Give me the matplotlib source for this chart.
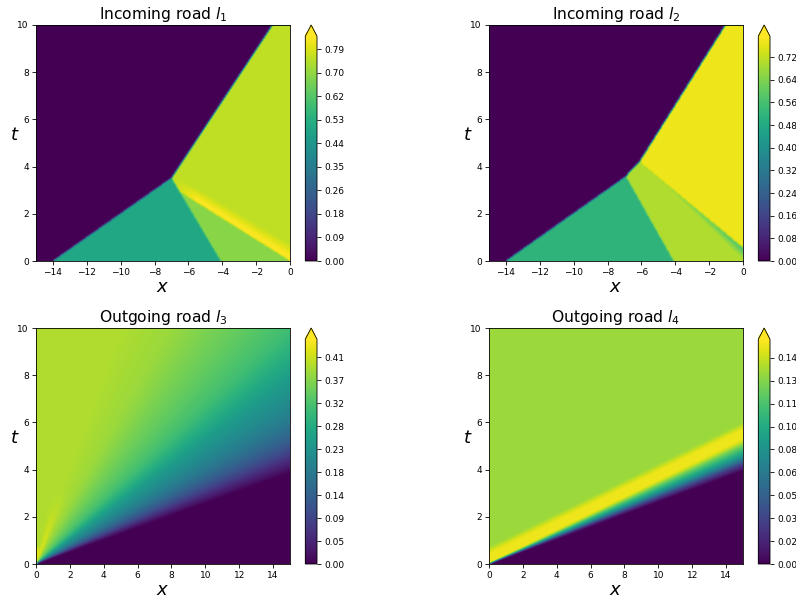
import numpy as np
import matplotlib
matplotlib.use("Agg")
import matplotlib.pyplot as plt

W, H = 796, 601
titles = [r"Incoming road $l_1$", r"Incoming road $l_2$", r"Outgoing road $l_3$", r"Outgoing road $l_4$"]
vmax_values = [0.84, 0.794, 0.45, 0.156]
cbar_ticks_1 = [0, 0.0879, 0.1758, 0.2637, 0.3516, 0.4395, 0.5274, 0.6153, 0.7032, 0.7911]
cbar_ticks_2 = [0, 0.08, 0.16, 0.24, 0.32, 0.40, 0.48, 0.56, 0.64, 0.72]
cbar_ticks_3 = [0, 0.046, 0.092, 0.138, 0.184, 0.23, 0.276, 0.322, 0.368, 0.414]
cbar_ticks_4 = [0, 0.0159, 0.0318, 0.0477, 0.0636, 0.0795, 0.0954, 0.1113, 0.1272, 0.1431]
cbar_ticks = [cbar_ticks_1, cbar_ticks_2, cbar_ticks_3, cbar_ticks_4]

# Road 1: shock fronts and constant states
r1_front_x, r1_front_t = [-14, -7, -1], [0, 3.5, 10]
r1_edge_t, r1_edge_x = [0, 3.5], [-4.1, -7]
r1_states = dict(teal=0.50, green=0.69, upper=0.76, peak=0.835)
r1_low_x, r1_low_t = [-6.8, 0], [3.05, 0.0]
r1_up_x, r1_up_t = [-7.0, 0], [3.7, 0.72]

# Road 2
r2_front_x, r2_front_t = [-14, -6.95, -6.1, -1], [0, 3.55, 4.2, 10]
r2_edge_t, r2_edge_x = [0, 3.55], [-4.1, -6.9]
r2_states = dict(teal=0.515, green=0.70, upper=0.775, dip=0.56)
r2_line_x, r2_line_t = [-6.1, 0], [4.2, 0.56]

# Road 3: density against the ratio x/t
r3_ratio = [0.0, 0.5, 0.8, 1.0, 1.25, 1.5, 1.875, 2.5, 3.0, 3.45, 3.9]
r3_value = [0.396, 0.396, 0.382, 0.362, 0.338, 0.312, 0.25, 0.18, 0.115, 0.05, 0.0]

# Road 4
r4_ratio = [2.85, 3.0, 3.3, 3.55, 3.8]
r4_value = [0.15, 0.122, 0.08, 0.03, 0.0]
r4_upper_x, r4_upper_t = [0, 15], [0.58, 5.85]
r4_states = dict(upper=0.1325, peak=0.152)

nx, nt = 260, 240


def grid(x0, x1):
    x = np.linspace(x0, x1, nx)
    t = np.linspace(0, 10, nt)
    return np.meshgrid(x, t)


def soften(Z):
    kernel = np.array([0.25, 0.5, 0.25])
    P = np.pad(Z, 1, mode="edge")
    P = np.apply_along_axis(lambda v: np.convolve(v, kernel, mode="same"), 0, P)
    P = np.apply_along_axis(lambda v: np.convolve(v, kernel, mode="same"), 1, P)
    return P[1:-1, 1:-1]


def road1():
    X, T = grid(-15, 0)
    s = r1_states
    low = np.interp(X, r1_low_x, r1_low_t)
    up = np.interp(X, r1_up_x, r1_up_t)
    frac = np.clip((T - low) / np.maximum(up - low, 1e-3), 0, 1)
    fade = np.clip((X + 6.8) / 1.3, 0, 1)
    peak = s["upper"] + (s["peak"] - s["upper"]) * fade
    Z = peak + (s["upper"] - peak) * np.clip((frac - 0.3) / 0.7, 0, 1)
    Z = np.where(T < low, s["green"], Z)
    Z = np.where(X < np.interp(T, r1_edge_t, r1_edge_x), s["teal"], Z)
    Z = np.where(T >= np.interp(X, r1_front_x, r1_front_t), 0.0, Z)
    return soften(Z)


def road2():
    X, T = grid(-15, 0)
    s = r2_states
    line = np.interp(X, r2_line_x, r2_line_t)
    gap = line - T
    k = np.clip(1 + X / 5.5, 0, 1)
    width = np.maximum(0.5 * k, 1e-3)
    Z = s["green"] - (s["green"] - s["dip"]) * k * np.clip(1 - gap / width, 0, 1)
    Z = np.where(T > line, s["upper"], Z)
    Z = np.where(X < np.interp(T, r2_edge_t, r2_edge_x), s["teal"], Z)
    Z = np.where(T >= np.interp(X, r2_front_x, r2_front_t), 0.0, Z)
    return soften(Z)


def road3():
    X, T = grid(0, 15)
    r = X / np.maximum(T, 1e-6)
    Z = np.interp(r, r3_ratio, r3_value)
    ridge = np.clip(1 - np.abs(r - 0.5) / 0.25, 0, 1) * np.clip(1 - T / 3, 0, 1)
    tip = np.clip((0.75 - T) / 0.2, 0, 1) * np.clip(1 - r / 0.8, 0, 1)
    return soften(Z + 0.04 * np.maximum(ridge, tip))


def road4():
    X, T = grid(0, 15)
    s = r4_states
    r = X / np.maximum(T, 1e-6)
    Z = np.interp(r, r4_ratio, r4_value)
    Z = np.where(r <= r4_ratio[0], s["peak"], Z)
    gap = T - np.interp(X, r4_upper_x, r4_upper_t)
    f = np.clip((gap + 0.15) / 0.3, 0, 1)
    Z = Z * (1 - f) + s["upper"] * f
    return soften(Z)


fields = [road1(), road2(), road3(), road4()]
extents = [(-15, 0), (-15, 0), (0, 15), (0, 15)]
xticks = [list(range(-14, 1, 2)), list(range(-14, 1, 2)), list(range(0, 15, 2)), list(range(0, 15, 2))]
ax_px = [(36, 25), (489, 25), (36, 328), (489, 328)]
cax_px = [305.3, 758.3, 305.3, 758.3]
AW, AH, CW = 254, 236, 11.7

fig = plt.figure(figsize=(W / 100, H / 100), dpi=100)
for i in range(4):
    x0, y0 = ax_px[i]
    ax = fig.add_axes([x0 / W, 1 - (y0 + AH) / H, AW / W, AH / H])
    im = ax.imshow(fields[i], origin="lower", aspect="auto", cmap="viridis",
                   vmin=0, vmax=vmax_values[i], interpolation="bilinear",
                   extent=[extents[i][0], extents[i][1], 0, 10])
    ax.set_xlim(*extents[i])
    ax.set_ylim(0, 10)
    ax.set_xticks(xticks[i])
    ax.set_yticks(range(0, 11, 2))
    ax.tick_params(labelsize=6.5, length=2.6, width=0.6, pad=2.5)
    for sp in ax.spines.values():
        sp.set_linewidth(0.6)
    ax.set_title(titles[i], fontsize=11.2, pad=4)
    ax.set_xlabel(r"$x$", fontsize=13, labelpad=1)
    ax.set_ylabel(r"$t$", fontsize=13, rotation=0, va="center", ha="center")
    ax.yaxis.set_label_coords(-0.083, 0.535)
    cax = fig.add_axes([cax_px[i] / W, 1 - (y0 + AH) / H, CW / W, AH / H])
    cb = fig.colorbar(im, cax=cax, extend="max")
    cb.set_ticks(cbar_ticks[i])
    cb.set_ticklabels(["%.2f" % v for v in cbar_ticks[i]])
    cb.ax.tick_params(labelsize=6.5, length=2.6, width=0.6, pad=2.5)
    cb.outline.set_linewidth(0.6)

fig.savefig("out.png", dpi=100)
